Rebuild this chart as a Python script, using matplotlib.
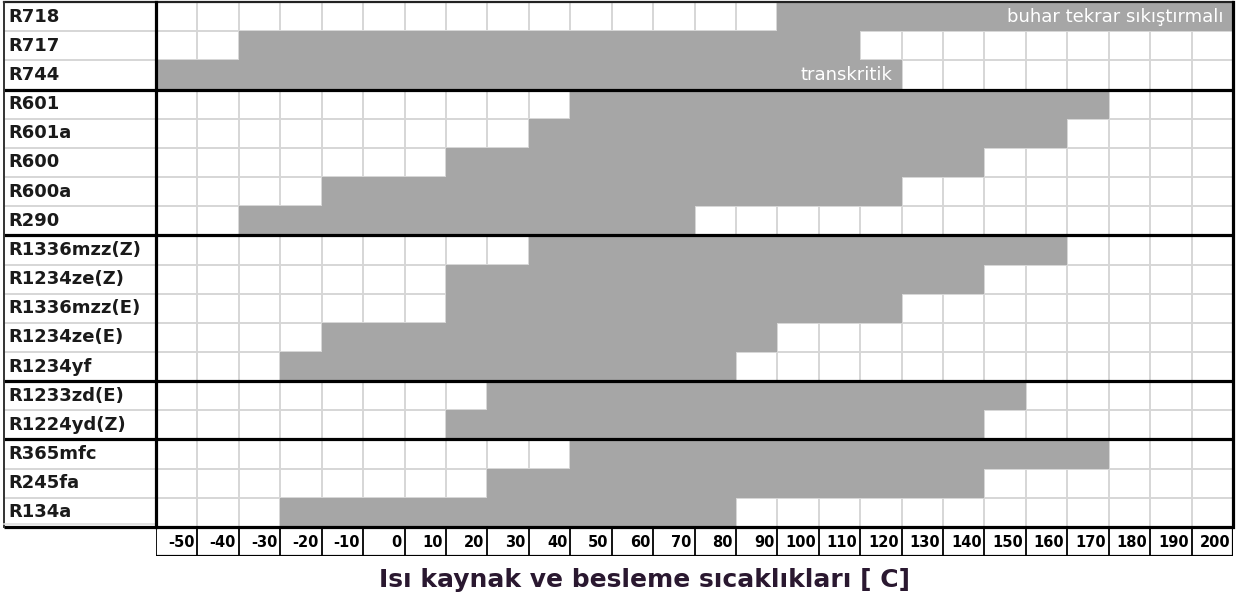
import matplotlib
matplotlib.use("Agg")
import matplotlib.pyplot as plt
from matplotlib.transforms import blended_transform_factory

# ---------------- data ----------------
refrigerants = ["R718", "R717", "R744",
                "R601", "R601a", "R600", "R600a", "R290",
                "R1336mzz(Z)", "R1234ze(Z)", "R1336mzz(E)", "R1234ze(E)", "R1234yf",
                "R1233zd(E)", "R1224yd(Z)",
                "R365mfc", "R245fa", "R134a"]
range_start = [100, -30, -50,
               50, 40, 20, -10, -30,
               40, 20, 20, -10, -20,
               30, 20,
               50, 30, -20]
range_end = [200, 110, 120,
             170, 160, 140, 120, 70,
             160, 140, 120, 90, 80,
             150, 140,
             170, 140, 80]
group_sizes = [3, 5, 5, 2, 3]
temp_labels = [-50, -40, -30, -20, -10, 0, 10, 20, 30, 40, 50, 60, 70,
               80, 90, 100, 110, 120, 130, 140, 150, 160, 170, 180, 190, 200]
row_notes = {"R718": "buhar tekrar sıkıştırmalı", "R744": "transkritik"}
xlabel = "Isı kaynak ve besleme sıcaklıkları [ C]"

# ---------------- style ----------------
W, H, DPI = 1247, 603, 100
BAR = "#a6a6a6"
GRID = "#d6d6d6"
plt.rcParams["font.family"] = ["DejaVu Sans"]

fig = plt.figure(figsize=(W / DPI, H / DPI), dpi=DPI)
fig.patch.set_facecolor("white")

GX0, GX1, GY0, GY1 = 156, 1233, 2, 527      # grid area (pixels)
LX0 = 4                                     # label column left edge
TY1 = 556                                   # bottom of tick row

ax = fig.add_axes([GX0 / W, 1 - GY1 / H, (GX1 - GX0) / W, (GY1 - GY0) / H])
n = len(refrigerants)
half = 5
xmin, xmax = temp_labels[0] - half, temp_labels[-1] + half
ax.set_xlim(xmin, xmax)
ax.set_ylim(n, 0)
ax.axis("off")

lab_frac = (LX0 - GX0) / (GX1 - GX0)
bt = blended_transform_factory(ax.transAxes, ax.transData)

# light grid (under bars)
for t in temp_labels[:-1]:
    ax.axvline(t + half, color=GRID, lw=1.4, zorder=1)
for i in range(1, n):
    ax.plot([lab_frac, 1], [i, i], transform=bt, color=GRID, lw=1.4,
            zorder=1, clip_on=False)

# bars
ys = [i + 0.5 for i in range(n)]
widths = [e - s + 2 * half for s, e in zip(range_start, range_end)]
lefts = [s - half for s in range_start]
ax.barh(ys, widths, left=lefts, height=1.0, color=BAR, zorder=2, linewidth=0)

# group separators
b = 0
for g in group_sizes:
    b += g
    ax.plot([lab_frac, 1], [b, b], transform=bt, color="black", lw=2.3,
            zorder=4, clip_on=False, solid_capstyle="butt")
# top border and left border
ax.plot([lab_frac, 1], [0, 0], transform=bt, color="#222222", lw=1.6,
        zorder=4, clip_on=False)
ax.plot([lab_frac, lab_frac], [0, n], transform=bt, color="#333333", lw=1.4,
        zorder=4, clip_on=False)
# right border
ax.plot([1, 1], [0, n], transform=bt, color="black", lw=2.3, zorder=4, clip_on=False)

# row labels
for i, name in enumerate(refrigerants):
    ax.text(lab_frac + 0.004, i + 0.5, name, transform=bt, ha="left",
            va="center", fontsize=13, fontweight="bold", color="#1a1a1a", zorder=5)

# notes on bars
for name, note in row_notes.items():
    i = refrigerants.index(name)
    xr = range_end[i] + half
    ax.text(xr - 2.3, i + 0.5, note, ha="right", va="center", fontsize=13,
            color="white", zorder=5)

# ---------------- tick row ----------------
ax2 = fig.add_axes([GX0 / W, 1 - TY1 / H, (GX1 - GX0) / W, (TY1 - GY1) / H])
ax2.set_xlim(xmin, xmax)
ax2.set_ylim(1, 0)
ax2.axis("off")
for t in temp_labels:
    ax2.axvline(t - half, color="black", lw=1.3)
    ax2.text(t + half - 0.7, 0.52, str(t), ha="right", va="center",
             fontsize=10.5, fontweight="bold", color="black")
ax2.axvline(xmax, color="black", lw=2.3)
ax2.axhline(1, color="black", lw=2.3)
bt2 = blended_transform_factory(ax2.transAxes, ax2.transAxes)
# left thick vertical through grid and tick row
ax2.plot([0, 0], [1, 1 + (GY1 - GY0) / (TY1 - GY1)], transform=bt2,
         color="black", lw=2.3, clip_on=False, zorder=6)
ax2.plot([lab_frac, 0], [1.1, 1.1], transform=bt2, color="#dddddd", lw=1.2,
         clip_on=False)

# x label
fig.text(644 / W, 1 - 580 / H, xlabel, ha="center", va="center",
         fontsize=18, fontweight="bold", color="#2a1830")

fig.savefig("out.png", dpi=DPI, facecolor="white")
